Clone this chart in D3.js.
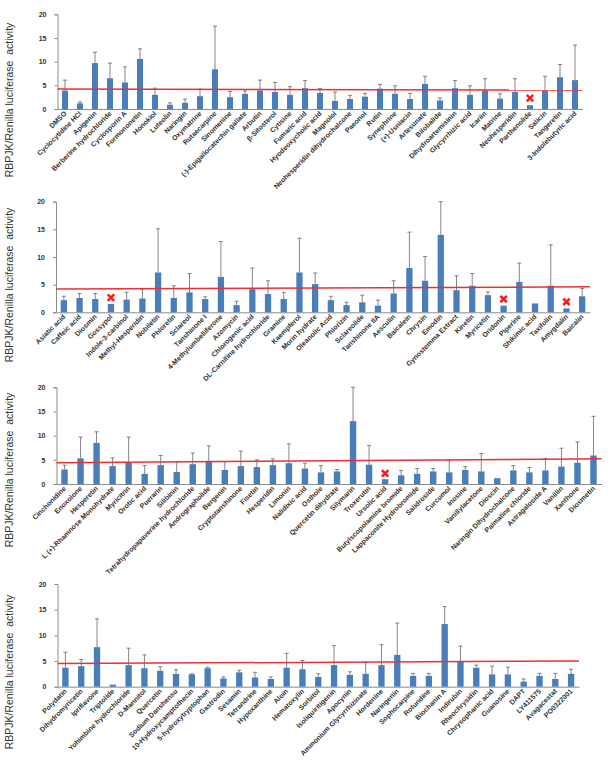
<!DOCTYPE html>
<html><head><meta charset="utf-8">
<script src="https://cdn.jsdelivr.net/npm/d3@7"></script>
<style>body{margin:0;background:#fff}svg{display:block}</style>
</head><body>
<script>
// ---------------- DATA ----------------
const yTicks = [0, 5, 10, 15, 20];
const yLabel = "RBPJK/Renilla luciferase  activity";

const cats1 = ["DMSO","Cyclocytidine HCl","Apigenin","Berberine hydrochloride","Cyclosporin A","Formononetin","Honokiol","Luteolin","Naringin","Oxymatrine","Rutaecarpine","Sinomenine","(-)-Epigallocatechin gallate","Arbutin","β-Sitosterol","Cytisine","Fumaric acid","Hyodeoxycholic acid","Magnolol","Neohesperidin dihydrochalcone","Paeonol","Rutin","Synephrine","(+)-Usniacin","Artesunate","Bilobalide","Dihydroartemisinin","Glycyrrhizic acid","Icariin","Matrine","Neohesperidin","Parthenolide","Salicin","Tangeretin","3-Indolebutyric acid"];
const vals1 = [3.9,1.2,9.7,6.5,5.6,10.6,3.0,0.9,1.3,2.7,8.4,2.5,3.2,3.9,3.6,3.0,4.4,3.4,1.7,2.1,2.6,4.3,3.2,2.1,5.3,1.8,4.4,3.0,3.9,2.2,3.6,0.8,3.9,6.7,6.1];
const errs1 = [2.2,0.3,2.3,3.2,3.3,2.1,1.4,0.4,0.8,1.5,9.1,1.2,0.6,2.2,2.0,1.7,1.6,0.9,1.9,0.8,0.7,0.9,1.7,1.2,1.6,0.5,1.6,1.9,2.5,1.0,2.8,0,3.0,2.7,7.4];
const marks1 = ["Parthenolide"];
const markVals1 = [2.3];
const ref1 = [4.2, 4.0];

const cats2 = ["Asiatic acid","Caffeic acid","Diosmin","Gossypol","Indole-3-carbinol","Methyl-Hesperidin","Nobiletin","Phloretin","Sclareol","Tanshinone I","4-Methylumbelliferone","Azomycin","Chlorogenic acid","DL-Carnitine hydrochloride","Gramine","Kaempferol","Morin hydrate","Oleanolic Acid","Phlorizin","Sclareolide","Tanshinone IIA","Aesculin","Baicalein","Chrysin","Emodin","Gynostemma Extract","Kinetin","Myricetin","Oridonin","Piperine","Shikimic acid","Taxifolin","Amygdalin","Baicalin"];
const vals2 = [2.2,2.6,2.4,1.5,2.3,2.5,7.2,2.6,3.6,2.4,6.4,1.3,4.2,3.3,2.4,7.2,5.1,2.2,1.3,1.8,1.2,3.4,8.0,5.7,14.0,4.0,4.8,3.1,1.2,5.5,1.6,4.8,0.7,2.9];
const errs2 = [0.7,0.8,1.0,0,1.3,1.7,7.9,2.2,3.4,0.4,6.4,0.7,3.8,2.4,1.2,6.2,2.0,0.7,0.5,1.3,1.0,2.3,6.5,4.4,6.0,2.6,2.2,0.6,0,3.4,0,7.4,0,1.4];
const marks2 = ["Gossypol","Oridonin","Amygdalin"];
const markVals2 = [2.65,2.4,1.9];
const ref2 = [4.2, 4.6];

const cats3 = ["Cinchonidine","Enoxolone","Hesperetin","L (+)-Rhamnose Monohydrate","Myricitrin","Orotic acid","Puerarin","Silibinin","Tetrahydropapaverine hydrochloride","Andrographolide","Bergenin","Cryptotanshinone","Fisetin","Hesperidin","Limonin","Nalidixic acid","Osthole","Quercetin dihydrate","Silymarin","Troxerutin","Ursolic acid","Butylscopolamine bromide","Lappaconite Hydrobromide","Salidroside","Curcumol","Inosine","Vanillylacetone","Dioscin","Naringin Dihydrochalcone","Palmatine chloride","Astragaloside A","Vanillin","Xanthone","Diosmetin"];
const vals3 = [3.0,5.3,8.5,3.7,4.5,2.1,3.9,2.5,4.1,4.8,2.9,3.7,3.5,3.9,4.3,3.2,2.4,2.6,13.0,4.0,1.0,1.8,2.1,2.6,2.4,2.9,2.6,1.2,2.8,2.4,2.8,3.6,4.4,5.9];
const errs3 = [0.9,4.4,2.3,1.7,5.2,1.7,2.0,2.1,2.3,3.1,1.7,3.1,1.5,1.3,4.0,1.1,1.4,0.4,7.0,4.0,0,1.0,1.1,0.6,2.4,0.7,3.7,0,1.0,1.0,2.5,3.8,4.3,8.1];
const marks3 = ["Ursolic acid"];
const markVals3 = [2.2];
const ref3 = [4.4, 5.2];

const cats4 = ["Polydatin","Dihydromyricetin","Ipriflavone","Triptolide","Yohimbine hydrochloride","D-Mannitol","Quercetin","Sodium Danshensu","10-Hydroxycamptothecin","5-hydroxytryptophan","Gastrodin","Sesamin","Tetrandrine","Hypoxanthine","Aloin","Hematoxylin","Sorbitol","Isoliquiritigenin","Apocynin","Ammonium Glycyrrhizinate","Hordenine","Naringenin","Sophocarpine","Rotundine","Biochanin A","Indirubin","Rheochrysidin","Chrysophanic acid","Guanosine","DAPT","LY411575","Avagacestat","PO0322001"];
const vals4 = [3.7,4.0,7.7,0.4,4.2,3.6,3.1,2.5,2.4,3.6,1.6,2.8,1.8,1.5,3.7,3.4,1.9,4.2,2.3,2.5,4.2,6.2,2.1,2.1,12.2,4.9,3.7,2.4,2.4,1.0,2.1,1.5,2.5];
const errs4 = [3.0,1.3,5.5,0,3.3,2.6,0.8,0.8,0.1,0.2,0.3,0.4,1.0,0.4,2.8,1.7,0.6,3.8,0.6,2.3,4.0,6.2,0.5,0.5,3.4,3.0,0.5,1.6,1.4,0.5,0.5,1.1,0.9];
const marks4 = [];
const markVals4 = [];
const ref4 = [4.5, 5.0];

// ---------------- LAYOUT ----------------
const panels = [
  {cats:cats1, vals:vals1, errs:errs1, marks:marks1, markVals:markVals1, ref:ref1, x0:57.5, x1:582.5, yTop:14.3, yBase:109, labY:100},
  {cats:cats2, vals:vals2, errs:errs2, marks:marks2, markVals:markVals2, ref:ref2, x0:56, x1:590, yTop:201.7, yBase:312.3, labY:285},
  {cats:cats3, vals:vals3, errs:errs3, marks:marks3, markVals:markVals3, ref:ref3, x0:56.5, x1:601.5, yTop:387.3, yBase:484, labY:470},
  {cats:cats4, vals:vals4, errs:errs4, marks:marks4, markVals:markVals4, ref:ref4, x0:57.5, x1:579, yTop:584, yBase:686.7, labY:672}
];

const W = 612, H = 783;
const svg = d3.select("body").append("svg").attr("width", W).attr("height", H)
  .style("font-family", "'Liberation Sans', Arial, sans-serif");

panels.forEach(p => {
  const x = d3.scaleBand().domain(p.cats).range([p.x0, p.x1]).paddingInner(0.6).paddingOuter(0.3);
  const y = d3.scaleLinear().domain([0, 20]).range([p.yBase, p.yTop]);
  const g = svg.append("g");

  // y axis
  const ya = g.append("g").attr("transform", `translate(${p.x0},0)`)
    .call(d3.axisLeft(y).tickValues(yTicks).tickSize(3).tickPadding(8));
  ya.select(".domain").attr("stroke", "#8c8c8c");
  ya.selectAll(".tick line").attr("stroke", "#8c8c8c");
  ya.selectAll(".tick text").attr("font-size", 7).attr("font-weight", "bold").attr("fill", "#333")
    .attr("font-family", "'Liberation Sans', Arial, sans-serif");

  // x axis
  const xa = g.append("g").attr("transform", `translate(0,${p.yBase})`)
    .call(d3.axisBottom(x).tickSize(0).tickPadding(0));
  xa.select(".domain").attr("stroke", "#8c8c8c");
  xa.selectAll(".tick text")
    .attr("font-size", 7).attr("font-weight", "bold").attr("fill", "#333")
    .attr("font-family", "'Liberation Sans', Arial, sans-serif")
    .attr("text-anchor", "end")
    .attr("dy", 0)
    .attr("transform", "translate(2,5) rotate(-45)");

  // bars
  g.selectAll("rect.bar").data(p.cats).join("rect").attr("class", "bar")
    .attr("x", d => x(d)).attr("width", x.bandwidth())
    .attr("y", (d, i) => y(p.vals[i])).attr("height", (d, i) => p.yBase - y(p.vals[i]))
    .attr("fill", "#4a7ebb");

  // error bars
  const eg = g.selectAll("g.err").data(p.cats).join("g").attr("class", "err")
    .filter((d, i) => p.errs[i] > 0);
  eg.append("line")
    .attr("x1", d => x(d) + x.bandwidth() / 2).attr("x2", d => x(d) + x.bandwidth() / 2)
    .attr("y1", d => y(p.vals[p.cats.indexOf(d)]))
    .attr("y2", d => { const i = p.cats.indexOf(d); return y(p.vals[i] + p.errs[i]); })
    .attr("stroke", "#666").attr("stroke-width", 0.8);
  eg.append("line")
    .attr("x1", d => x(d) + x.bandwidth() / 2 - 2).attr("x2", d => x(d) + x.bandwidth() / 2 + 2)
    .attr("y1", d => { const i = p.cats.indexOf(d); return y(p.vals[i] + p.errs[i]); })
    .attr("y2", d => { const i = p.cats.indexOf(d); return y(p.vals[i] + p.errs[i]); })
    .attr("stroke", "#666").attr("stroke-width", 0.8);

  // reference line
  g.append("line")
    .attr("x1", p.x0).attr("x2", p.x1)
    .attr("y1", y(p.ref[0])).attr("y2", y(p.ref[1]))
    .attr("stroke", "#e8323a").attr("stroke-width", 1.5);

  // red X marks
  p.marks.forEach((m, k) => {
    const cx = x(m) + x.bandwidth() / 2, cy = y(p.markVals[k]), s = 3.2;
    const path = d3.path();
    path.moveTo(cx - s, cy - s); path.lineTo(cx + s, cy + s);
    path.moveTo(cx + s, cy - s); path.lineTo(cx - s, cy + s);
    g.append("path").attr("d", path.toString()).attr("stroke", "#ff1a1a")
      .attr("stroke-width", 2.6).attr("stroke-linecap", "butt").attr("fill", "none");
  });

  // y label
  g.append("text")
    .attr("transform", `translate(13,${p.labY}) rotate(-90)`)
    .attr("text-anchor", "middle")
    .attr("font-size", 10.5).attr("fill", "#333")
    .style("white-space", "pre")
    .text(yLabel);
});
</script>
</body></html>
